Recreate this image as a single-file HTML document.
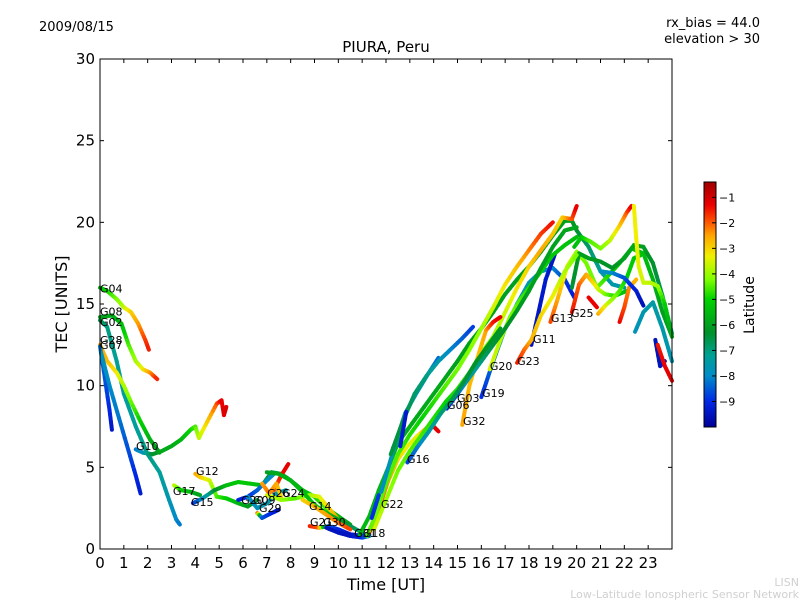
<!DOCTYPE html>
<html><head><meta charset="utf-8"><style>
html,body{margin:0;padding:0;background:#fff;}
svg{display:block;font-family:"DejaVu Sans","Liberation Sans",sans-serif;}
</style></head><body>
<svg id="chart" width="800" height="600" viewBox="0 0 800 600" xmlns="http://www.w3.org/2000/svg">
<text x="39" y="31" font-size="13">2009/08/15</text>
<text x="760" y="27" font-size="13" text-anchor="end">rx_bias = 44.0</text>
<text x="760" y="43" font-size="13" text-anchor="end">elevation &gt; 30</text>
<text x="386" y="52" font-size="15" text-anchor="middle">PIURA, Peru</text>
<text transform="translate(67,304) rotate(-90)" font-size="16" text-anchor="middle">TEC [UNITS]</text>
<text x="386" y="590" font-size="16" text-anchor="middle">Time [UT]</text>
<text x="799" y="586" font-size="11" fill="#d0d0d0" text-anchor="end">LISN</text>
<text x="799" y="598" font-size="11" fill="#d0d0d0" text-anchor="end">Low-Latitude Ionospheric Sensor Network</text>
<g id="tracks"></g>
<g id="labels"></g>
<rect x="100" y="59" width="572" height="490" fill="none" stroke="#000" stroke-width="1"/>
<g id="axes"></g>
<defs><linearGradient id="cbgrad" x1="0" y1="1" x2="0" y2="0"></linearGradient></defs>
<rect x="704" y="182" width="12" height="245" fill="url(#cbgrad)" stroke="#000" stroke-width="1"/>
<g id="cbticks"></g>
<text transform="translate(754,305) rotate(-90)" font-size="14" text-anchor="middle">Latitude</text>
</svg>
<script>
const xTicks=[0,1,2,3,4,5,6,7,8,9,10,11,12,13,14,15,16,17,18,19,20,21,22,23];
const yTicks=[0,5,10,15,20,25,30];
const cbTicks=[-1,-2,-3,-4,-5,-6,-7,-8,-9];
const latMin=-10, latMax=-0.4;
const tracks=[
{t:[0,0.3,0.7,1.0,1.3,1.6,1.9,2.05],v:[16.0,15.8,15.3,14.8,14.5,13.8,12.8,12.2],lat:[-5.5,-5,-4.3,-3.8,-3,-2.5,-1.8,-1.5]},
{t:[0,0.5,0.9,1.2,1.5,1.8,2.1,2.4],v:[14.2,14.3,13.8,12.5,11.5,11.0,10.8,10.4],lat:[-6,-5.8,-5.5,-4.6,-4,-3.3,-2.5,-1.5]},
{t:[0,0.3,0.7,1.0,1.5,2.0,2.5,2.9,3.2,3.35],v:[14.0,13.6,11.5,9.5,7.5,5.8,4.7,3.0,1.8,1.5],lat:[-6.5,-7,-7.2,-7.3,-7.3,-7.0,-7.2,-7.6,-8,-8.2]},
{t:[0,0.3,0.7,1.0,1.3,1.7,2.1,2.5],v:[12.5,11.5,10.8,10.0,9.0,7.8,6.7,5.9],lat:[-2.5,-2.7,-3.2,-3.8,-4.3,-5,-5.6,-6.2]},
{t:[0,0.2,0.4,0.5],v:[12.4,10.5,8.5,7.3],lat:[-8.2,-8.5,-9,-9.4]},
{t:[0.05,0.4,0.8,1.2,1.5,1.7],v:[12.0,10,8,6,4.5,3.4],lat:[-7.8,-8,-8.2,-8.6,-9,-9.3]},
{t:[1.5,1.8,2.2,2.6,3.0,3.4,3.8,4.0,4.15,4.5,4.9,5.1,5.2,5.3],v:[6.1,5.9,5.8,6.0,6.3,6.7,7.3,7.5,6.8,7.8,8.9,9.1,8.2,8.7],lat:[-8.2,-7.8,-6.5,-5.8,-5.8,-5.6,-5.0,-4.6,-3.8,-3,-2,-1.3,-1.2,-1.1]},
{t:[3.1,3.4,3.8,4.2],v:[3.9,3.6,3.5,3.3],lat:[-3.5,-5,-5.5,-6]},
{t:[4.0,4.2,4.6,4.9,5.3,5.8,6.2,6.6],v:[4.6,4.4,4.2,3.2,3.1,2.8,2.6,3.0],lat:[-2.5,-2.8,-3.5,-4.5,-5,-5.5,-6,-6.5]},
{t:[3.9,4.3,4.8,5.3,5.8,6.3,6.8,7.2,7.6,8.0,8.5,9.0,9.5,10,10.5],v:[2.8,3.1,3.6,3.9,4.1,4.0,3.9,4.7,4.6,4.2,3.6,3.2,2.5,2.0,1.5],lat:[-9,-8,-6.5,-5.5,-5.2,-5.2,-5.5,-6.8,-6.8,-6.3,-5.5,-5,-4.5,-5.5,-6]},
{t:[5.8,6.2,6.6,7.0,7.3],v:[3.0,3.2,3.6,4.2,4.6],lat:[-9.2,-9,-8.5,-8,-7.8]},
{t:[6.6,6.8,7.2,7.5],v:[2.2,1.9,2.2,2.4],lat:[-1.5,-8.5,-9,-9.5]},
{t:[6.2,6.6,7.0,7.4,7.8],v:[3.2,2.5,2.8,3.4,3.6],lat:[-8,-7.8,-7.6,-7.5,-7.5]},
{t:[7.3,7.6,7.9],v:[3.6,4.5,5.2],lat:[-2,-1.5,-1.2]},
{t:[6.8,7.1,7.4,7.6],v:[4.0,3.4,4.0,3.2],lat:[-2.5,-2.2,-2.5,-3]},
{t:[7.0,7.6,8.2,8.8,9.2,9.6,10.0,10.5],v:[3.3,3.0,3.1,3.3,3.2,2.5,1.8,1.3],lat:[-3.5,-4,-4.5,-4,-3.5,-3,-2.5,-2.5]},
{t:[7.0,7.5,8.0,8.5,9.0,9.5,10,10.5,11],v:[4.7,4.6,4.2,3.5,2.7,2.2,1.8,1.4,1.0],lat:[-6,-5.8,-5.6,-5.5,-5.3,-5.5,-6,-6.5,-7]},
{t:[8.5,9.0,9.5,10.0,10.5],v:[3.0,2.6,2.1,1.6,1.2],lat:[-3,-2.7,-2.5,-2.2,-1.8]},
{t:[8.8,9.2,9.6,10,10.5,11,11.3],v:[1.4,1.3,1.4,1.2,0.9,0.8,0.9],lat:[-1.5,-2,-8.5,-9,-9.5,-9,-8.5]},
{t:[9.5,10,10.5,11,11.3],v:[1.3,1.0,0.8,0.7,0.8],lat:[-9.5,-9.5,-9.5,-9,-8]},
{t:[11.3,11.7,12.1,12.5,12.9,13.3,13.7,14.0,14.2],v:[1.0,2.5,4.2,5.5,6.3,6.9,7.4,7.5,7.2],lat:[-1.3,-1.8,-2.4,-3,-3.3,-3.5,-2.5,-1.3,-1.2]},
{t:[10.9,11.3,11.7,12.1,12.5,13,13.5,14,14.5,15,15.5,16,16.5,17,17.5,18,18.5,19,19.5,19.8,20,20.5,21,21.5,22],v:[0.9,2,3.6,5,6.5,7.5,8.5,9.5,10.5,11.5,12.6,13.5,14.5,15.6,16.5,17.3,18.2,19.2,20.1,20.1,19.5,18.5,17,16.2,16.0],lat:[-5.5,-5.5,-5.6,-5.6,-5.7,-5.8,-5.8,-5.8,-5.9,-6,-6,-6,-6,-6,-6,-6,-6,-6,-6,-6,-6.3,-6.8,-7.2,-7.5,-7.6]},
{t:[11.2,11.6,12,12.5,13,13.5,14,14.5,15,15.5,16,16.5,17,17.5,18,18.5,19],v:[0.8,2.2,4,5.8,7,8,9,10,11,12.2,13.5,14.8,16.2,17.3,18.3,19.3,20.0],lat:[-4.5,-4.3,-4.5,-4.5,-4.8,-5,-4.8,-4.5,-4.3,-4.2,-4,-3.6,-3.2,-2.8,-2.3,-1.8,-1.4]},
{t:[11.5,12,12.5,13,13.5,14,14.5,15,15.5,16,16.5,17,17.5,18,18.5,19,19.4,19.8,20.0],v:[1.2,3,4.8,6,7,8,9,9.8,10.8,12,13,14.5,16,17.3,18.3,19.3,20.3,20.2,21.0],lat:[-3.5,-4,-4.3,-4.5,-4.6,-4.8,-5,-4.8,-4.6,-4.3,-4,-3.6,-3.2,-3,-2.5,-2.8,-3,-2,-1.2]},
{t:[16,16.5,17,17.5,18,18.5,19,19.5,19.9],v:[9.3,11.5,13.5,15.0,16.3,17,17.2,16.5,15.4],lat:[-9,-8.3,-7.8,-7.6,-7.5,-7.6,-8,-8.7,-9.3]},
{t:[18.1,18.4,18.7,19.1],v:[12.5,14.5,16.5,18.1],lat:[-9.5,-9.4,-9.3,-9.5]},
{t:[18.9,19.2,19.6,20,20.4,20.85,21.3,21.8,22.3,22.8,23.2,23.6,24],v:[13.9,15.3,17.3,18.2,17.5,16,16.7,17.5,18.4,18.1,16.5,14.5,13],lat:[-1.8,-2.5,-3.5,-4,-4.3,-4.3,-4.8,-5.3,-5.2,-5.4,-5.6,-6,-6]},
{t:[19.8,20.1,20.4,20.7,20.9,21.2,21.6,22.1],v:[14.5,16.2,16.8,16.3,15.9,15.6,15.5,15.8],lat:[-1.4,-2,-2.5,-3,-3.5,-4.2,-4.8,-5.5]},
{t:[20.5,20.85],v:[15.4,14.8],lat:[-1.3,-1.3]},
{t:[20.9,21.2,21.5,21.8,22.1,22.4,22.7],v:[14.4,14.9,15.3,15.8,16.6,17.8,18.0],lat:[-2.5,-3.3,-4,-4.5,-5,-5.2,-5.3]},
{t:[19.8,20.1,20.5,21,21.5,22,22.4,22.8,23.2,23.6,24],v:[16,18.1,17.8,17.6,17.2,17.8,18.6,18.5,17.5,15.5,13.2],lat:[-6.5,-6,-6,-6.2,-6.3,-6,-5.8,-6,-6.3,-6.7,-7]},
{t:[19.9,20.2,20.6,21,21.4,21.8,22.1,22.3],v:[18.5,19.1,18.8,18.4,18.9,19.8,20.6,21.0],lat:[-5.5,-5.2,-4.5,-4.3,-3.8,-3,-2,-1.2]},
{t:[22.4,22.5,22.6,22.8,23.1,23.4,23.7,24],v:[21.0,19,17.3,16.3,16.3,16.1,15,13],lat:[-3.3,-3.3,-3.4,-3.6,-3.7,-3.9,-5,-6]},
{t:[21.8,22,22.2,22.5],v:[13.9,14.8,16.0,16.5],lat:[-1.3,-1.8,-2.3,-2.7]},
{t:[22.45,22.8,23.2,23.6,24],v:[13.3,14.5,15.1,13.5,11.5],lat:[-7.8,-7.6,-7.4,-7.5,-7.6]},
{t:[21,21.5,22,22.5,22.8],v:[17.0,16.9,16.6,15.8,14.9],lat:[-7.8,-8,-8.5,-9.2,-9.6]},
{t:[23.3,23.5,23.7],v:[12.8,11.2,11.5],lat:[-9.5,-9.5,-9.4]},
{t:[23.4,23.7,24],v:[12.5,11.2,10.3],lat:[-1.5,-1.3,-1.2]},
{t:[17.5,17.8,18.1,18.5,19,19.5,20],v:[11.4,12.2,12.8,14.3,15.5,17,18],lat:[-1.5,-2,-2.6,-3,-3.3,-3.8,-4.3]},
{t:[15.2,15.5,15.9,16.2,16.5,16.8],v:[7.6,10,12,13.4,13.9,14.2],lat:[-2.5,-2.7,-2.8,-2.5,-1.5,-1.2]},
{t:[16.35,16.8,17.2,17.6,18,18.5,19,19.5,20],v:[11,12.8,14.2,15.2,16,17,18,18.6,19.1],lat:[-3.5,-3.8,-4.2,-4.5,-4.8,-5,-5.2,-5.3,-5.4]},
{t:[14.55,15,15.5,16,16.5,17,17.5,18,18.5,19,19.5,20],v:[8.6,9.5,10.5,11.5,12.5,13.5,14.6,15.8,17.2,18.5,19.5,19.7],lat:[-9.3,-8.5,-7.5,-7,-6.5,-6.3,-6.2,-6,-6,-6,-5.9,-5.9]},
{t:[11.8,12.3,12.8,13.3,13.8,14.2],v:[3.5,6,8.3,9.6,10.8,11.7],lat:[-8,-7.6,-7.5,-7.6,-7.9,-8.4]},
{t:[12.2,12.7,13.2,13.7,14.2,14.7,15.2,15.65],v:[5.8,7.8,9.5,10.6,11.5,12.2,12.9,13.6],lat:[-6.5,-6.5,-6.8,-7,-7.5,-8,-8.4,-8.8]},
{t:[12.9,13.3,13.8,14.3,14.8,15.3,15.8,16.3,16.8],v:[5.3,6.2,7.2,8.3,9.2,10.3,11.5,12.5,13.5],lat:[-8.8,-8.2,-7.5,-7,-6.7,-6.5,-6.3,-6.2,-6.2]},
{t:[11.4,11.7],v:[1.9,3.3],lat:[-9,-8.8]},
{t:[12.6,12.85],v:[6.3,8.4],lat:[-9.2,-9.4]}
];
const labelNames=["G04","G08","G02","G28","G07","G10","G12","G17","G15","G20","G09","G29","G26","G24","G14","G21","G30","G31","G18","G22","G16","G32","G06","G03","G19","G20","G23","G11","G13","G25"];
const labelT=[0,0,0,0,0,1.51,4.03,3.06,3.82,5.92,6.42,6.67,7.01,7.64,8.77,8.81,9.36,10.66,11.03,11.79,12.88,15.23,14.56,14.98,16.03,16.36,17.5,18.17,18.92,19.76];
const labelV=[15.7,14.3,13.65,12.55,12.25,6.06,4.53,3.31,2.63,2.76,2.76,2.27,3.18,3.18,2.39,1.41,1.41,0.73,0.73,2.51,5.27,7.59,8.57,9.0,9.31,10.96,11.27,12.61,13.9,14.2];

const NS="http://www.w3.org/2000/svg";
const X0=100,X1=672,Y0=549,Y1=59;
function xs(t){return X0+t*(X1-X0)/24;}
function ys(v){return Y0-v*(Y0-Y1)/30;}
const cmap=[[-10,[0,0,150]],[-9,[0,40,230]],[-8,[0,140,200]],[-7.2,[0,160,150]],[-6.3,[0,145,40]],[-5,[0,210,0]],[-4.2,[130,255,0]],[-3.3,[240,240,0]],[-2.5,[255,165,0]],[-2,[255,90,0]],[-1.3,[235,0,0]],[-0.4,[160,0,0]]];
function col(l){
  if(l<=cmap[0][0])return "rgb("+cmap[0][1]+")";
  for(let i=1;i<cmap.length;i++){if(l<=cmap[i][0]){const a=cmap[i-1],b=cmap[i];const f=(l-a[0])/(b[0]-a[0]);
    return "rgb("+a[1].map((c,k)=>Math.round(c+(b[1][k]-c)*f)).join(",")+")";}}
  return "rgb("+cmap[cmap.length-1][1]+")";
}
const tg=document.getElementById('tracks');
tracks.forEach((tr,ti)=>{
  const g=document.createElementNS(NS,'g');
  
  
  for(let i=0;i<tr.t.length-1;i++){
    const n=5;
    for(let s=0;s<n;s++){
      const f0=s/n,f1=(s+1)/n;
      const ta=tr.t[i]+(tr.t[i+1]-tr.t[i])*f0,tb=tr.t[i]+(tr.t[i+1]-tr.t[i])*f1;
      const va=tr.v[i]+(tr.v[i+1]-tr.v[i])*f0,vb=tr.v[i]+(tr.v[i+1]-tr.v[i])*f1;
      const la=tr.lat[i]+(tr.lat[i+1]-tr.lat[i])*(f0+f1)/2;
      const ln=document.createElementNS(NS,'line');
      ln.setAttribute('x1',xs(ta));ln.setAttribute('y1',ys(va));
      ln.setAttribute('x2',xs(tb));ln.setAttribute('y2',ys(vb));
      ln.setAttribute('stroke',col(la));ln.setAttribute('stroke-width','4');ln.setAttribute('stroke-linecap','round');
      g.appendChild(ln);
    }
  }
  tg.appendChild(g);
});
const lg=document.getElementById('labels');
labelNames.forEach((nm,i)=>{
  const tx=document.createElementNS(NS,'text');
  
  
  tx.setAttribute('x',xs(labelT[i]));tx.setAttribute('y',ys(labelV[i]));
  tx.setAttribute('font-size','11');tx.textContent=nm;lg.appendChild(tx);
});
const ag=document.getElementById('axes');
function addLine(g,x1,y1,x2,y2){const l=document.createElementNS(NS,'line');l.setAttribute('x1',x1);l.setAttribute('y1',y1);l.setAttribute('x2',x2);l.setAttribute('y2',y2);l.setAttribute('stroke','#000');l.setAttribute('stroke-width','1');g.appendChild(l);return l;}
xTicks.forEach(t=>{
  const x=xs(t);
  const a=addLine(ag,x,Y0,x,Y0-4);
  
  
  const b=addLine(ag,x,Y1,x,Y1+4);
  
  
  const tx=document.createElementNS(NS,'text');
  
  
  tx.setAttribute('x',x);tx.setAttribute('y',568);tx.setAttribute('font-size','15');tx.setAttribute('text-anchor','middle');tx.textContent=t;ag.appendChild(tx);
});
yTicks.forEach(v=>{
  const y=ys(v);
  const a=addLine(ag,X0,y,X0+4,y);
  
  
  const b=addLine(ag,X1,y,X1-4,y);
  
  
  const tx=document.createElementNS(NS,'text');
  
  
  tx.setAttribute('x',95);tx.setAttribute('y',y+5);tx.setAttribute('font-size','15');tx.setAttribute('text-anchor','end');tx.textContent=v;ag.appendChild(tx);
});
const grad=document.getElementById('cbgrad');
cmap.forEach(c=>{const s=document.createElementNS(NS,'stop');s.setAttribute('offset',(c[0]-latMin)/(latMax-latMin));s.setAttribute('stop-color','rgb('+c[1]+')');grad.appendChild(s);});
const cg=document.getElementById('cbticks');
cbTicks.forEach(l=>{
  const y=427-(l-latMin)/(latMax-latMin)*245;
  const a=addLine(cg,716,y,712,y);
  
  
  const tx=document.createElementNS(NS,'text');
  
  
  tx.setAttribute('x',719);tx.setAttribute('y',y+4);tx.setAttribute('font-size','11');tx.textContent='\u2212'+(-l);cg.appendChild(tx);
});
</script>
</body></html>
